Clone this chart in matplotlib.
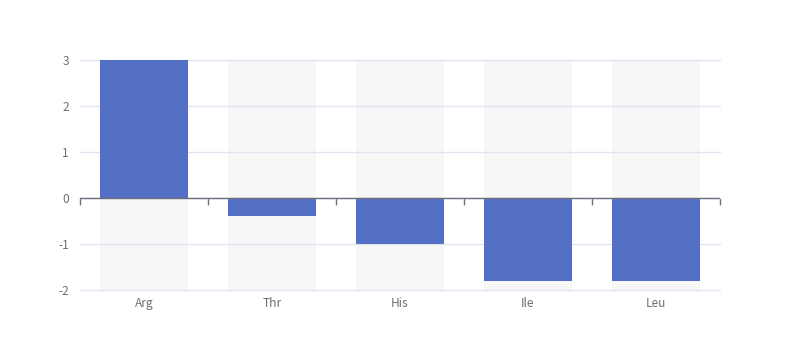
import numpy as np
import matplotlib
matplotlib.use('Agg')
import matplotlib.pyplot as plt

plt.rcParams['font.family'] = ['Noto Sans CJK SC', 'DejaVu Sans']
plt.rcParams['axes.unicode_minus'] = False

# data
categories = ['Arg', 'Thr', 'His', 'Ile', 'Leu']
values = [3, -0.4, -1, -1.8, -1.8]
y_min, y_max = -2, 3

fig = plt.figure(figsize=(8, 3.6), dpi=100)
ax = fig.add_axes([0.1, 0.1944, 0.8, 0.6389])

x = np.arange(len(categories))
bar_w = 0.69

# background bars (under the grid)
ax.bar(x, [y_max - y_min] * len(x), bottom=y_min, width=bar_w,
       color='#f7f7f7', zorder=0.2)
ax.bar(x, values, width=bar_w, color='#5470c6', zorder=3)

ax.set_xlim(-0.5, len(x) - 0.5)
ax.set_ylim(y_min, y_max)
ax.set_yticks(range(y_min, y_max + 1))
ax.grid(axis='y', color='#e0e6f1', linewidth=1)
ax.set_axisbelow(True)
for gl in ax.get_ygridlines():
    gl.set_clip_on(False)

for s in ax.spines.values():
    s.set_visible(False)

ax.set_xticks(x)
ax.set_xticklabels(categories)
ax.tick_params(axis='x', length=0, pad=5, labelsize=8.6, labelcolor='#6e7079')
ax.tick_params(axis='y', length=0, pad=8, labelsize=8.6, labelcolor='#6e7079')

# axis line at zero with boundary ticks
ax.axhline(0, color='#6e7079', linewidth=1, zorder=4)
zero_pos = (0 - y_min) / (y_max - y_min)
sec = ax.secondary_xaxis(zero_pos)
sec.set_xticks(np.arange(-0.5, len(x), 1.0))
sec.set_xticklabels([])
sec.tick_params(axis='x', direction='out', length=5, color='#6e7079', width=1)
sec.spines['bottom'].set_visible(False)
sec.spines['top'].set_visible(False)

fig.savefig('out.png', dpi=100)
